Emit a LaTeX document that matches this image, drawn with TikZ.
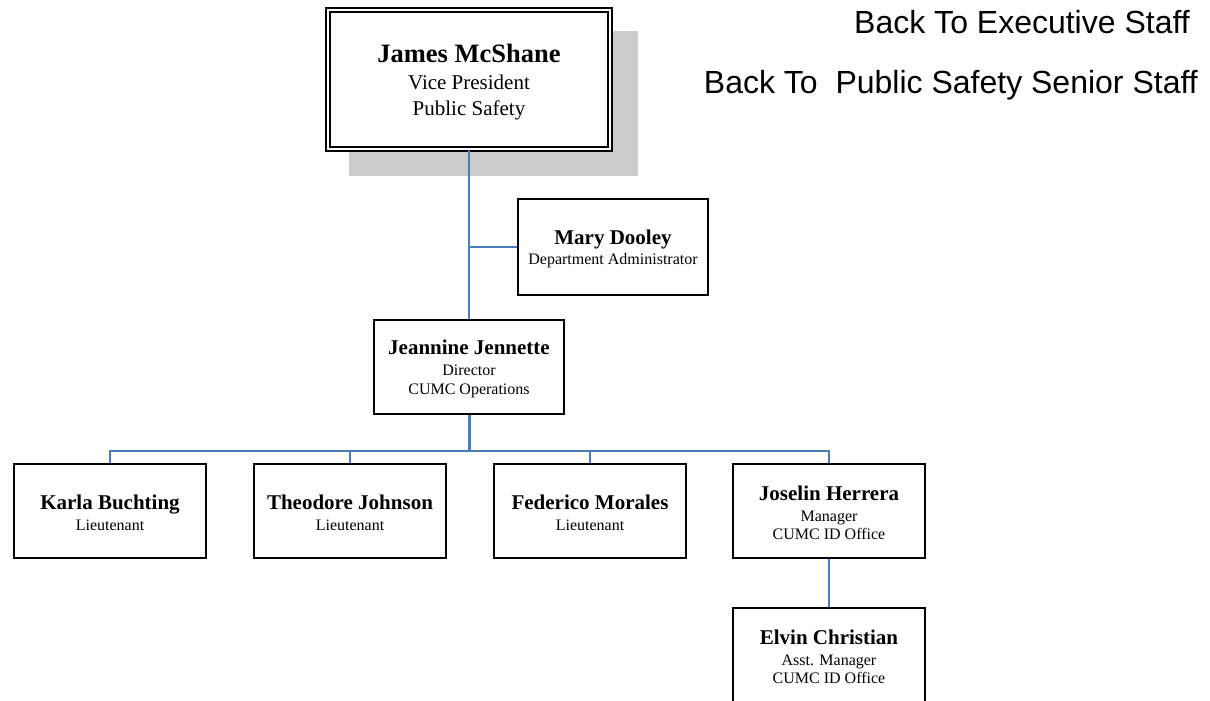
\documentclass[tikz,border=0pt]{standalone}
\usepackage{fontspec}
\setmainfont{Liberation Serif}
\newfontfamily\linkfont{Liberation Sans}
\definecolor{conn}{HTML}{4A7EBB}
\definecolor{shadowgray}{HTML}{CCCCCC}
\tikzset{
  person/.style={draw=black, line width=2pt, fill=white, rectangle,
    minimum width=192pt, minimum height=94pt, inner sep=0pt, align=center,
    font=\fontsize{16}{19}\selectfont},
  bigbox/.style={draw=black, double=white, double distance=2.5pt, line width=1.7pt,
    fill=white, rectangle, minimum width=282pt, minimum height=139pt, inner sep=0pt,
    align=center, font=\fontsize{21}{26}\selectfont},
  link/.style={draw=conn, line width=2pt},
  linktext/.style={anchor=base east, inner sep=0pt, font=\linkfont\fontsize{32}{38}\selectfont},
}
\newcommand\pn[1]{\rule{0pt}{18.5pt}{\fontsize{21}{23}\selectfont\bfseries #1}}
\begin{document}
\begin{tikzpicture}[x=1pt, y=-1pt]
\useasboundingbox (0,0) rectangle (1210,701);

% shadow of the top box
\fill[shadowgray] (349,31) rectangle (638,176);

\node[bigbox] (vp) at (469,79.5)
  {\rule{0pt}{24.5pt}{\fontsize{26.5}{28}\selectfont\bfseries James McShane}\\[1pt] Vice President\\ Public Safety};

\node[person, minimum width=190pt, minimum height=96pt] (md) at (613,247) {\pn{Mary Dooley}\\[1.5pt] Department Administrator};
\node[person, minimum width=190pt] (jj) at (469,367) {\pn{Jeannine Jennette}\\[1.5pt] Director\\ CUMC Operations};

\node[person] (kb) at (110,511) {\pn{Karla Buchting}\\[1.5pt] Lieutenant};
\node[person] (tj) at (350,511) {\pn{Theodore Johnson}\\[1.5pt] Lieutenant};
\node[person] (fm) at (590,511) {\pn{Federico Morales}\\[1.5pt] Lieutenant};
\node[person] (jh) at (829,511) {\pn{Joselin Herrera}\\[1.5pt] Manager\\[-0.5pt] CUMC ID Office};
\node[person] (ec) at (829,655) {\pn{Elvin Christian}\\[1.5pt] Asst. Manager\\[-0.5pt] CUMC ID Office};

\node[linktext] (l1) at (1190,33.5) {Back To Executive Staff};
\node[linktext] (l2) at (1198,93.5) {Back To\ \ Public Safety Senior Staff};

% connectors
\coordinate (bus) at (469,451);
\draw[link] (vp.south) -- (jj.north);
\draw[link] (md.west -| vp.south) -- (md.west);
\draw[link, line width=3pt] (jj.south) -- (jj.south |- bus);
\draw[link] (kb.north) -- (kb.north |- bus) -- (jh.north |- bus) -- (jh.north);
\draw[link] (tj.north) -- (tj.north |- bus);
\draw[link] (fm.north) -- (fm.north |- bus);
\draw[link] (jh.south) -- (ec.north);
\end{tikzpicture}
\end{document}
